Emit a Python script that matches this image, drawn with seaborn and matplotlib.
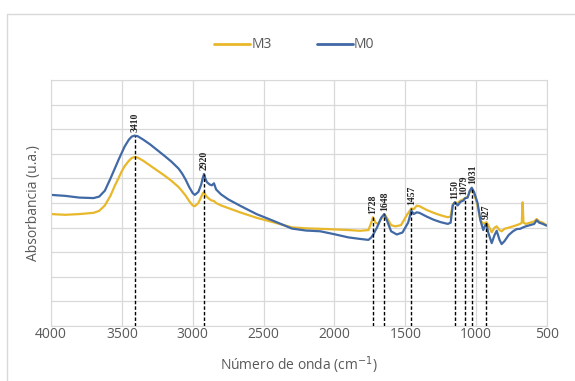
import numpy as np
import pandas as pd
import seaborn as sns
import matplotlib.pyplot as plt
from matplotlib.lines import Line2D

# wavenumbers (cm-1) and absorbance
wn_m0 = [4000, 3900, 3800, 3700, 3660, 3620, 3580, 3550, 3520, 3500, 3480, 3450, 3430, 3410, 3390, 3350,
         3300, 3250, 3200, 3150, 3100, 3075, 3050, 3025, 3000, 2985, 2960, 2940, 2930, 2920, 2910, 2900,
         2880, 2865, 2850, 2835, 2800, 2750, 2666, 2550, 2433, 2300, 2200, 2100, 2000, 1900, 1820, 1760,
         1740, 1728, 1700, 1670, 1648, 1630, 1600, 1560, 1520, 1480, 1457, 1440, 1420, 1400, 1350, 1300,
         1250, 1200, 1180, 1165, 1150, 1130, 1110, 1090, 1079, 1060, 1045, 1031, 1015, 990, 970, 950, 935,
         927, 915, 890, 870, 855, 835, 820, 800, 770, 740, 714, 690, 672, 650, 620, 590, 573, 555, 530, 503]
abs_m0 = [5.33, 5.29, 5.22, 5.20, 5.26, 5.50, 6.00, 6.40, 6.80, 7.05, 7.30, 7.58, 7.70, 7.74, 7.72, 7.58,
          7.38, 7.15, 6.92, 6.68, 6.40, 6.20, 5.95, 5.65, 5.40, 5.33, 5.45, 5.75, 6.00, 6.18, 5.98, 5.85,
          5.75, 5.72, 5.80, 5.55, 5.35, 5.15, 4.89, 4.55, 4.28, 3.96, 3.88, 3.85, 3.73, 3.60, 3.54, 3.50,
          3.60, 3.70, 4.00, 4.40, 4.55, 4.30, 3.85, 3.72, 3.80, 4.20, 4.69, 4.55, 4.62, 4.60, 4.45, 4.32,
          4.22, 4.15, 4.20, 4.90, 5.03, 4.90, 5.05, 5.10, 5.19, 5.22, 5.50, 5.62, 5.45, 5.00, 4.30, 3.90,
          4.10, 4.15, 3.80, 3.37, 3.70, 3.87, 3.50, 3.33, 3.45, 3.70, 3.85, 3.94, 3.95, 4.00, 4.05, 4.10,
          4.15, 4.30, 4.20, 4.15, 4.08]

wn_m3 = [4000, 3900, 3800, 3700, 3660, 3620, 3580, 3550, 3520, 3500, 3480, 3450, 3430, 3410, 3390, 3350,
         3300, 3250, 3200, 3150, 3100, 3075, 3050, 3025, 3000, 2985, 2960, 2940, 2930, 2920, 2910, 2900,
         2880, 2865, 2850, 2835, 2800, 2666, 2550, 2433, 2300, 2200, 2055, 1900, 1820, 1760, 1740, 1728,
         1710, 1690, 1670, 1648, 1630, 1600, 1570, 1530, 1490, 1457, 1440, 1420, 1400, 1350, 1300, 1250,
         1200, 1180, 1165, 1150, 1130, 1110, 1090, 1079, 1060, 1045, 1031, 1015, 990, 970, 950, 935, 927,
         915, 890, 870, 855, 835, 820, 800, 770, 740, 714, 690, 678, 672, 666, 650, 620, 590, 573, 555,
         530, 503]
abs_m3 = [4.55, 4.52, 4.55, 4.60, 4.68, 4.90, 5.30, 5.70, 6.05, 6.30, 6.50, 6.72, 6.83, 6.87, 6.85, 6.72,
          6.52, 6.32, 6.12, 5.90, 5.65, 5.48, 5.30, 5.08, 4.90, 4.87, 5.00, 5.25, 5.38, 5.45, 5.32, 5.25,
          5.15, 5.10, 5.08, 5.00, 4.90, 4.62, 4.40, 4.22, 4.01, 3.97, 3.94, 3.90, 3.87, 3.90, 4.20, 4.42,
          4.20, 4.15, 4.35, 4.55, 4.40, 4.10, 4.05, 4.10, 4.50, 4.78, 4.75, 4.89, 4.87, 4.72, 4.60, 4.50,
          4.42, 4.45, 4.95, 5.03, 5.00, 5.10, 5.15, 5.20, 5.25, 5.45, 5.50, 5.40, 4.90, 4.30, 4.15, 4.20,
          4.22, 4.10, 3.81, 4.00, 4.05, 3.90, 3.85, 3.95, 4.00, 4.05, 4.10, 4.15, 4.20, 5.03, 4.20, 4.15,
          4.20, 4.25, 4.35, 4.25, 4.20, 4.10]

peaks = [3410, 2920, 1728, 1648, 1457, 1150, 1079, 1031, 927]
xticks = [4000, 3500, 3000, 2500, 2000, 1500, 1000, 500]

df = pd.concat([
    pd.DataFrame({'wn': wn_m3, 'abs': abs_m3, 'serie': 'M3'}),
    pd.DataFrame({'wn': wn_m0, 'abs': abs_m0, 'serie': 'M0'}),
])
colors = {'M3': '#E8B82A', 'M0': '#4169A6'}

sns.set_style('white')
plt.rcParams['font.family'] = ['Open Sans', 'DejaVu Sans']

fig = plt.figure(figsize=(5.75, 3.81), dpi=100)
ax = fig.add_axes([0.0887, 0.1444, 0.8626, 0.6456])
sns.lineplot(data=df, x='wn', y='abs', hue='serie', palette=colors, sort=False,
             linewidth=1.6, ax=ax, legend=False)

ax.set_xlim(4000, 500)
ax.set_ylim(0, 10)
ax.set_xticks(xticks)
ax.set_xticklabels([str(t) for t in xticks], fontsize=10, color='#595959')
ax.set_yticks(np.arange(0, 11, 1))
ax.set_yticklabels([])
ax.tick_params(length=0, pad=1)
ax.grid(True, color='#D9D9D9', linewidth=0.9)
for s in ax.spines.values():
    s.set_color('#D9D9D9')
ax.set_xlabel('Número de onda (cm$^{-1}$)', fontsize=10, color='#595959', labelpad=9)
ax.set_ylabel('Absorbancia (u.a.)', fontsize=10, color='#595959', labelpad=6)

# dashed markers for the peaks (small nudge where labels crowd)
nudge = {1079: -1.0, 1031: 1.0}
for p in peaks:
    top = max(np.interp(p, wn_m0[::-1], abs_m0[::-1]), np.interp(p, wn_m3[::-1], abs_m3[::-1]))
    ax.plot([p, p], [0, top], color='black', linestyle=(0, (2.5, 1.5)), linewidth=1.0, zorder=3)
    ax.annotate(str(p), (p, top), xytext=(nudge.get(p, 0), 2.5), textcoords='offset points', rotation=90,
                ha='center', va='bottom', fontsize=7, fontweight='bold',
                family='Liberation Serif', color='#222222')

handles = [Line2D([], [], color=colors['M3'], linewidth=2), Line2D([], [], color=colors['M0'], linewidth=2)]
fig.legend(handles, ['M3', 'M0'], loc='center', bbox_to_anchor=(0.512, 0.882), ncol=2, frameon=False,
           fontsize=10, labelcolor='#595959', handlelength=2.6, handletextpad=0.1, columnspacing=3.2)

# outer chart frame
fig.add_artist(Line2D([0.012, 1.0], [0.962, 0.962], color='#D9D9D9', linewidth=1, transform=fig.transFigure))
fig.add_artist(Line2D([0.012, 0.012], [0.0, 0.962], color='#D9D9D9', linewidth=1, transform=fig.transFigure))

fig.savefig('out.png', dpi=100)
